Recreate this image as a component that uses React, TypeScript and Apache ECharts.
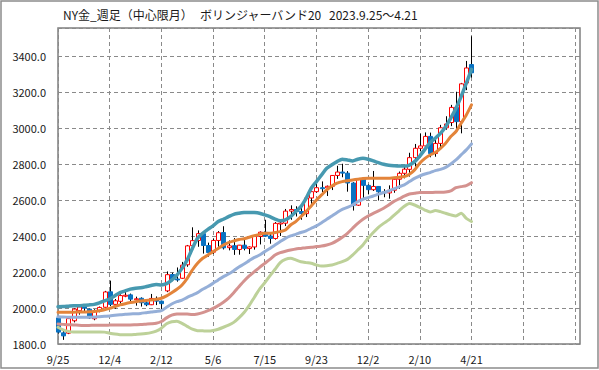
import React, { useEffect, useRef } from 'react';
import * as echarts from 'echarts';

// Weekly dates (2/19 and 2/26 of 2024 are absent in the source data)
const dates = [
  '9/25', '10/2', '10/9', '10/16', '10/23', '10/30', '11/6', '11/13', '11/20', '11/27',
  '12/4', '12/11', '12/18', '12/25', '1/1', '1/8', '1/15', '1/22', '1/29', '2/5',
  '2/12', '3/4', '3/11', '3/18', '3/25', '4/1', '4/8', '4/15', '4/22', '4/29',
  '5/6', '5/13', '5/20', '5/27', '6/3', '6/10', '6/17', '6/24', '7/1', '7/8',
  '7/15', '7/22', '7/29', '8/5', '8/12', '8/19', '8/26', '9/2', '9/9', '9/16',
  '9/23', '9/30', '10/7', '10/14', '10/21', '10/28', '11/4', '11/11', '11/18', '11/25',
  '12/2', '12/9', '12/16', '12/23', '12/30', '1/6', '1/13', '1/20', '1/27', '2/3',
  '2/10', '2/17', '2/24', '3/3', '3/10', '3/17', '3/24', '3/31', '4/7', '4/14',
  '4/21',
];

const opens = [
  1945, 1862, 1860, 1929, 1985, 2008, 1994, 1940, 1985, 2004,
  2090, 2020, 2037, 2069, 2073, 2049, 2054, 2029, 2018, 2053,
  2038, 2095, 2186, 2161, 2165, 2240, 2346, 2375, 2413, 2347,
  2310, 2375, 2419, 2335, 2346, 2325, 2349, 2330, 2339, 2397,
  2420, 2400, 2386, 2470, 2471, 2538, 2547, 2536, 2524, 2611,
  2646, 2668, 2667, 2676, 2736, 2755, 2749, 2694, 2571, 2716,
  2681, 2657, 2675, 2645, 2639, 2654, 2715, 2748, 2770, 2835,
  2887, 2900, 2953, 2858, 2914, 3001, 3030, 3114, 3035, 3250,
  3352,
];
const closes = [
  1866, 1845, 1941, 1994, 2006, 1999, 1945, 1984, 2003, 2089,
  2020, 2040, 2069, 2071, 2049, 2051, 2029, 2018, 2053, 2038,
  2024, 2185, 2161, 2158, 2238, 2345, 2374, 2413, 2347, 2308,
  2375, 2418, 2334, 2345, 2325, 2349, 2331, 2339, 2397, 2421,
  2399, 2386, 2470, 2472, 2538, 2547, 2536, 2524, 2611, 2646,
  2668, 2667, 2676, 2736, 2755, 2749, 2694, 2571, 2716, 2681,
  2657, 2675, 2645, 2639, 2654, 2715, 2748, 2771, 2835, 2887,
  2900, 2953, 2858, 2914, 3001, 3022, 3114, 3035, 3245, 3333,
  3306,
];
const lows = [
  1858, 1823, 1855, 1920, 1963, 1981, 1940, 1932, 1976, 2002,
  2010, 1996, 2025, 2060, 2030, 2013, 2008, 2010, 2016, 2016,
  1990, 2088, 2149, 2146, 2163, 2229, 2330, 2340, 2302, 2285,
  2300, 2340, 2325, 2320, 2295, 2296, 2320, 2300, 2324, 2353,
  2396, 2357, 2380, 2400, 2455, 2490, 2508, 2490, 2505, 2560,
  2640, 2644, 2622, 2655, 2717, 2726, 2646, 2541, 2567, 2603,
  2631, 2650, 2597, 2615, 2607, 2640, 2662, 2720, 2730, 2785,
  2870, 2880, 2837, 2840, 2890, 2990, 3010, 2990, 2970, 3210,
  3280,
];
const highs = [
  1953, 1877, 1946, 1998, 2009, 2019, 1996, 1993, 2008, 2095,
  2152, 2050, 2076, 2093, 2080, 2063, 2059, 2044, 2078, 2064,
  2041, 2203, 2196, 2225, 2256, 2350, 2448, 2431, 2414, 2363,
  2385, 2427, 2454, 2375, 2388, 2350, 2387, 2342, 2399, 2425,
  2490, 2413, 2477, 2478, 2550, 2570, 2565, 2560, 2614, 2649,
  2709, 2703, 2680, 2736, 2790, 2801, 2760, 2699, 2721, 2721,
  2686, 2761, 2676, 2660, 2681, 2725, 2758, 2786, 2862, 2911,
  2968, 2975, 2974, 2933, 3017, 3065, 3128, 3201, 3250, 3372,
  3509,
];

// Bollinger band (20 weeks) lines
const upper2 = [
  2007, 2008, 2010, 2012, 2013, 2015, 2017, 2020, 2028, 2040,
  2050, 2068, 2085, 2095, 2105, 2110, 2112, 2118, 2125, 2130,
  2128, 2135, 2155, 2183, 2220, 2267, 2331, 2387, 2415, 2437,
  2456, 2480, 2493, 2507, 2520, 2526, 2530, 2531, 2530, 2526,
  2517, 2507, 2494, 2485, 2489, 2507, 2535, 2563, 2609, 2665,
  2702, 2739, 2776, 2796, 2813, 2826, 2822, 2817, 2826, 2831,
  2826, 2817, 2807, 2798, 2793, 2790, 2788, 2788, 2794, 2813,
  2844, 2881, 2919, 2943, 2970, 3007, 3054, 3109, 3174, 3248,
  3325,
];
const upper1 = [
  1976, 1976, 1977, 1977, 1978, 1978, 1979, 1981, 1985, 1990,
  1998, 2008, 2017, 2024, 2030, 2035, 2039, 2042, 2044, 2048,
  2054, 2067, 2085, 2104, 2128, 2165, 2211, 2248, 2276, 2294,
  2313, 2331, 2350, 2363, 2372, 2380, 2385, 2393, 2402, 2409,
  2415, 2415, 2419, 2424, 2433, 2461, 2480, 2507, 2535, 2567,
  2600, 2628, 2656, 2678, 2693, 2702, 2707, 2711, 2715, 2719,
  2720, 2720, 2720, 2720, 2720, 2724, 2726, 2730, 2743, 2767,
  2804, 2831, 2850, 2863, 2887, 2915, 2952, 2980, 3026, 3072,
  3128,
];
const middle = [
  1952, 1950, 1949, 1948, 1948, 1948, 1949, 1950, 1952, 1954,
  1956, 1960, 1963, 1965, 1967, 1968, 1970, 1974, 1978, 1981,
  1985, 2004, 2022, 2035, 2044, 2059, 2072, 2085, 2104, 2119,
  2137, 2156, 2174, 2189, 2207, 2228, 2244, 2263, 2281, 2294,
  2313, 2331, 2350, 2369, 2387, 2400, 2409, 2419, 2428, 2443,
  2456, 2474, 2493, 2511, 2530, 2548, 2559, 2572, 2591, 2604,
  2613, 2622, 2632, 2641, 2650, 2662, 2673, 2684, 2702, 2720,
  2733, 2744, 2752, 2763, 2770, 2781, 2800, 2822, 2850, 2878,
  2911,
];
const lower1 = [
  1911, 1909, 1907, 1906, 1904, 1903, 1903, 1904, 1904, 1904,
  1905, 1906, 1906, 1906, 1906, 1907, 1908, 1910, 1912, 1915,
  1925, 1945, 1960, 1966, 1967, 1966, 1964, 1967, 1974, 1985,
  1998, 2013, 2032, 2055, 2085, 2118, 2150, 2178, 2202, 2226,
  2248, 2270, 2294, 2307, 2315, 2322, 2328, 2331, 2335, 2337,
  2341, 2344, 2350, 2359, 2374, 2393, 2415, 2443, 2470, 2493,
  2511, 2526, 2539, 2554, 2572, 2592, 2606, 2621, 2633, 2637,
  2641, 2641, 2641, 2643, 2643, 2644, 2650, 2668, 2674, 2680,
  2696,
];
const lower2 = [
  1893, 1878, 1870, 1866, 1866, 1867, 1866, 1866, 1867, 1866,
  1860, 1855, 1852, 1851, 1851, 1853, 1855, 1858, 1863, 1872,
  1888, 1912, 1924, 1926, 1915, 1898, 1882, 1874, 1873, 1872,
  1875, 1882, 1893, 1905, 1920, 1945, 1975, 2015, 2060, 2105,
  2140, 2178, 2215, 2252, 2270, 2276, 2267, 2257, 2252, 2248,
  2239, 2233, 2235, 2239, 2248, 2257, 2270, 2294, 2322, 2350,
  2387, 2419, 2448, 2470, 2489, 2515, 2540, 2565, 2581, 2572,
  2559, 2544, 2533, 2541, 2535, 2526, 2517, 2511, 2526, 2498,
  2480,
];

const TOTAL_SLOTS = 102; // the axis runs on past the last week
const Y_MIN = 1800;
const Y_MAX = 3555;
const Y_STEP = 200;

const TITLE_PARTS = ['NY金_週足（中心限月）', 'ボリンジャーバンド20', '2023.9.25～4.21'];

export default function App() {
  const ref = useRef<HTMLDivElement>(null);

  useEffect(() => {
    if (!ref.current) return;
    const chart = echarts.init(ref.current, null, { renderer: 'svg' });
    const categories = Array.from({ length: TOTAL_SLOTS }, (_, i) => (i < dates.length ? dates[i] : ''));
    const candles = dates.map((_, i) => [i, opens[i], closes[i], lows[i], highs[i]]);
    const font = '"Noto Sans CJK JP", "Noto Sans", sans-serif';

    const lineSeries = (name: string, data: number[], color: string, width: number, z: number) => ({
      name,
      type: 'line',
      data,
      showSymbol: false,
      symbol: 'none',
      smooth: 0.25,
      lineStyle: { color, width, cap: 'round', join: 'round' },
      z,
      silent: true,
    });

    const option: any = {
      animation: false,
      backgroundColor: '#ffffff',
      grid: {
        left: 58,
        right: 19,
        top: 28,
        bottom: 26,
        show: true,
        borderColor: '#7f7f7f',
        borderWidth: 1.5,
        backgroundColor: 'transparent',
        outerBoundsMode: 'none',
      },
      xAxis: {
        type: 'category',
        data: categories,
        boundaryGap: false,
        axisLine: { show: false },
        axisTick: { show: false, interval: 9 },
        axisLabel: {
          interval: 9,
          color: '#1a1a1a',
          fontSize: 11,
          fontFamily: font,
          margin: 9,
        },
        splitLine: {
          show: true,
          interval: 9,
          lineStyle: { color: '#8a8a8a', type: [4, 3], width: 1 },
        },
      },
      yAxis: {
        type: 'value',
        min: Y_MIN,
        max: Y_MAX,
        interval: Y_STEP,
        axisLine: { show: false },
        axisTick: { show: false },
        axisLabel: {
          color: '#1a1a1a',
          fontSize: 11,
          fontFamily: font,
          margin: 12,
          formatter: (v: number) => ((v - Y_MIN) % Y_STEP === 0 ? v.toFixed(1) : ''),
        },
        splitLine: {
          show: true,
          lineStyle: { color: '#8a8a8a', type: [4, 3], width: 1 },
        },
      },
      graphic: [
        {
          type: 'rect',
          shape: { x: 1, y: 1, width: 597, height: 367 },
          style: { fill: 'none', stroke: '#8c8c8c', lineWidth: 1.5 },
          silent: true,
        },
        {
          type: 'text',
          x: 63,
          y: 14,
          style: { text: TITLE_PARTS[0], font: `12px ${font}`, fill: '#1a1a1a', verticalAlign: 'middle' },
        },
        {
          type: 'text',
          x: 200,
          y: 14,
          style: { text: TITLE_PARTS[1], font: `12px ${font}`, fill: '#1a1a1a', verticalAlign: 'middle' },
        },
        {
          type: 'text',
          x: 329,
          y: 14,
          style: { text: TITLE_PARTS[2], font: `12px ${font}`, fill: '#1a1a1a', verticalAlign: 'middle' },
        },
      ],
      series: [
        {
          name: 'candles',
          type: 'custom',
          data: candles,
          encode: { x: 0, y: [1, 2, 3, 4] },
          z: 2,
          clip: false,
          renderItem: (params: any, api: any) => {
            const idx = api.value(0);
            const o = api.value(1);
            const c = api.value(2);
            const l = api.value(3);
            const h = api.value(4);
            const pO = api.coord([idx, o]);
            const pC = api.coord([idx, c]);
            const pL = api.coord([idx, l]);
            const pH = api.coord([idx, h]);
            const x = Math.round(pO[0]) + 0.5;
            const w = 4;
            const up = c >= o;
            const top = Math.min(pO[1], pC[1]);
            const height = Math.max(Math.abs(pO[1] - pC[1]), 1);
            return {
              type: 'group',
              children: [
                {
                  type: 'line',
                  shape: { x1: x, y1: pH[1], x2: x, y2: pL[1] },
                  style: { stroke: '#000000', lineWidth: 1 },
                },
                {
                  type: 'rect',
                  shape: { x: x - w / 2, y: top, width: w, height },
                  style: {
                    fill: up ? '#ffffff' : '#0a72c2',
                    stroke: up ? '#ff0000' : '#0a72c2',
                    lineWidth: 1,
                  },
                },
              ],
            };
          },
        },
        lineSeries('-2σ', lower2, '#bdd199', 3, 3),
        lineSeries('-1σ', lower1, '#d4928f', 3, 3),
        lineSeries('MA20', middle, '#95afd8', 3, 3),
        lineSeries('+1σ', upper1, '#e3843a', 3, 4),
        lineSeries('+2σ', upper2, '#4799b0', 3.5, 4),
      ],
    };

    chart.setOption(option);
    return () => chart.dispose();
  }, []);

  return (
    <div
      ref={ref}
      style={{ position: 'fixed', left: 0, top: 0, width: 599, height: 370, background: '#fff' }}
    />
  );
}
